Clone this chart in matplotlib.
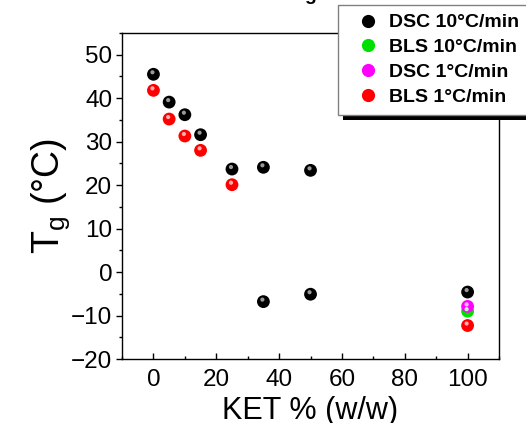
import matplotlib.pyplot as plt
import matplotlib.transforms as mtransforms
from matplotlib.lines import Line2D
from matplotlib.patches import Rectangle

plt.rcParams['font.family'] = ['Liberation Sans', 'DejaVu Sans']
plt.rcParams['mathtext.default'] = 'regular'

# KET content (% w/w) vs glass transition temperature (C)
ket_dsc10 = [0, 5, 10, 15, 25, 35, 50, 35, 50, 100]
tg_dsc10 = [45.5, 39.1, 36.2, 31.6, 23.7, 24.1, 23.4, -6.8, -5.1, -4.6]
err_dsc10 = [0, 0, 0, 0, 0, 0, 0, 1.1, 0, 0]

ket_bls10 = [100]
tg_bls10 = [-9.0]

ket_dsc1 = [100]
tg_dsc1 = [-7.9]

ket_bls1 = [0, 5, 10, 15, 25, 100]
tg_bls1 = [41.8, 35.2, 31.3, 28.0, 20.1, -12.3]

labels = ['DSC 10°C/min', 'BLS 10°C/min', 'DSC 1°C/min', 'BLS 1°C/min']
colors = ['#000000', '#00e000', '#ff00ff', '#ff0000']
shine = ['#9a9a9a', '#b8ffb8', '#ffc0ff', '#ffb0b0']

fig = plt.figure(figsize=(5.26, 4.23), dpi=100)
ax = fig.add_axes([0.232, 0.1513, 0.7167, 0.7707])

ax.errorbar(ket_dsc10, tg_dsc10, yerr=err_dsc10, fmt='none', ecolor='black',
            elinewidth=1, capsize=0, zorder=2)

# ball-like markers: base disc plus a small highlight up and to the left
hl = mtransforms.offset_copy(ax.transData, fig=fig, x=-1.0, y=2.0, units='dots')
series = [(ket_dsc10, tg_dsc10), (ket_bls10, tg_bls10),
          (ket_dsc1, tg_dsc1), (ket_bls1, tg_bls1)]
for (xs, ys), c, s in zip(series, colors, shine):
    ax.scatter(xs, ys, s=85, color=c, edgecolors='none', zorder=3)
    ax.scatter(xs, ys, s=9, color=s, edgecolors='none', zorder=4,
               transform=hl)

ax.set_xlim(-10, 110)
ax.set_ylim(-20, 55)
ax.set_xticks(range(0, 101, 20))
ax.set_xticks(range(-10, 111, 10), minor=True)
ax.set_yticks(range(-20, 51, 10))
ax.set_yticks(range(-20, 56, 5), minor=True)
ax.tick_params(axis='x', which='both', direction='in', labelsize=17.5, pad=7)
ax.tick_params(axis='y', which='both', direction='out', labelsize=17.5, pad=3)
ax.tick_params(which='major', length=4, width=1)
ax.tick_params(which='minor', length=2.5, width=1)
for sp in ax.spines.values():
    sp.set_linewidth(1)

ax.set_xlabel('KET % (w/w)', fontsize=22)
ax.xaxis.set_label_coords(0.5, -0.115)
ax.set_ylabel('T$_g$ (°C)', fontsize=27)
ax.yaxis.set_label_coords(-0.132, 0.5)

fig.text(310 / 526, 1.0, 'g', fontsize=14, fontweight='bold',
         ha='center', va='baseline')

handles = [Line2D([], [], ls='none', marker='o', markersize=9.5,
                  markerfacecolor=c, markeredgecolor='none') for c in colors]
leg = fig.legend(handles, labels, loc='upper left',
                 bbox_to_anchor=(338 / 526, 1 - 5 / 423), borderaxespad=0,
                 prop={'size': 14, 'weight': 'bold'}, frameon=True,
                 fancybox=False, edgecolor='#808080', framealpha=1,
                 borderpad=0.45, handlelength=2.15, handletextpad=0.0,
                 labelspacing=0.37)
leg.get_frame().set_linewidth(1)
leg.set_zorder(10)

# hard black drop shadow under the legend box
fig.canvas.draw()
bb = leg.get_window_extent()
fig.patches.append(Rectangle((bb.x0 + 5, bb.y0 - 5), bb.width, bb.height,
                             transform=None, facecolor='black',
                             edgecolor='none', zorder=9))

fig.savefig('out.png', dpi=100)
